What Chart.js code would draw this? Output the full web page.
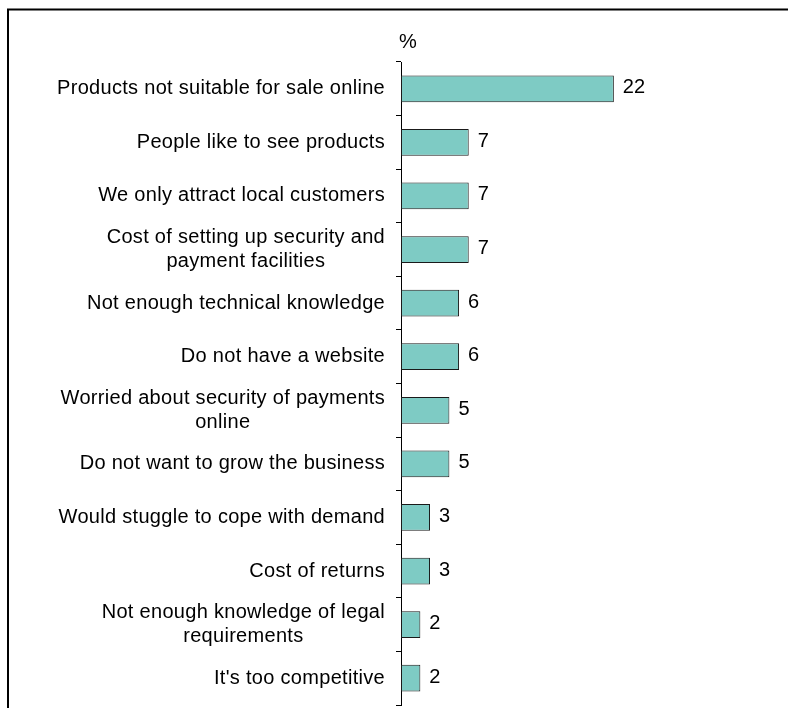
<!DOCTYPE html>
<html>
<head>
<meta charset="utf-8">
<script src="https://cdn.jsdelivr.net/npm/chart.js@4/dist/chart.umd.min.js"></script>
<style>
  html, body { margin: 0; padding: 0; background: #fff; }
  #wrap { width: 788px; height: 708px; position: relative; }
</style>
</head>
<body>
<div id="wrap"><canvas id="chart-reasons" width="788" height="708"></canvas></div>
<script>
// reasons for not selling online, % of businesses
const reasons = [
  ['Products not suitable for sale online'],
  ['People like to see products'],
  ['We only attract local customers'],
  ['Cost of setting up security and', 'payment facilities'],
  ['Not enough technical knowledge'],
  ['Do not have a website'],
  ['Worried about security of payments', 'online'],
  ['Do not want to grow the business'],
  ['Would stuggle to cope with demand'],
  ['Cost of returns'],
  ['Not enough knowledge of legal', 'requirements'],
  ["It's too competitive"],
];
const percents = [22, 7, 7, 7, 6, 6, 5, 5, 3, 3, 2, 2];
const unitLabel = '%';

const FONT = '20px "Liberation Sans", Arial, sans-serif';

// outer frame (left + top edges only)
const framePlugin = {
  id: 'frame',
  afterDraw(chart) {
    const c = chart.ctx;
    c.save();
    c.strokeStyle = '#000';
    c.lineWidth = 2;
    c.beginPath();
    c.moveTo(8, 708);
    c.lineTo(8, 9.5);
    c.lineTo(788, 9.5);
    c.stroke();
    c.restore();
  },
};

// category labels: block right-aligned, lines centred within the block
const categoryLabels = {
  id: 'categoryLabels',
  afterDraw(chart) {
    const c = chart.ctx;
    const y = chart.scales.y;
    const right = 385;
    const lineH = 24;
    c.save();
    c.font = FONT;
    c.letterSpacing = '0.3px';
    c.fillStyle = '#000';
    c.textBaseline = 'middle';
    c.textAlign = 'center';
    reasons.forEach((lines, i) => {
      const cy = y.getPixelForValue(i);
      const w = Math.max(...lines.map(l => c.measureText(l).width));
      const cx = right - w / 2;
      const top = cy - (lines.length - 1) * lineH / 2;
      lines.forEach((l, k) => c.fillText(l, cx, top + k * lineH));
    });
    // unit label above the axis
    c.letterSpacing = '0px';
    c.textAlign = 'left';
    c.fillText(unitLabel, chart.chartArea.left - 2, 42);
    c.restore();
  },
};

// value labels at the end of each bar
const valueLabels = {
  id: 'valueLabels',
  afterDatasetsDraw(chart) {
    const c = chart.ctx;
    const meta = chart.getDatasetMeta(0);
    c.save();
    c.font = FONT;
    c.fillStyle = '#000';
    c.textBaseline = 'middle';
    c.textAlign = 'left';
    meta.data.forEach((bar, i) => {
      c.fillText(String(percents[i]), bar.x + 9, bar.y - 1);
    });
    c.restore();
  },
};

new Chart(document.getElementById('chart-reasons').getContext('2d'), {
  type: 'bar',
  data: {
    labels: reasons,
    datasets: [{
      data: percents,
      backgroundColor: '#7ecbc4',
      borderColor: '#1a1a1a',
      borderWidth: 1,
      borderSkipped: false,
      barPercentage: 0.5,
      categoryPercentage: 1,
    }],
  },
  options: {
    indexAxis: 'y',
    responsive: false,
    animation: false,
    events: [],
    layout: { padding: { top: 62, bottom: 3, left: 0, right: 0 } },
    plugins: {
      legend: { display: false },
      tooltip: { enabled: false },
    },
    scales: {
      x: {
        display: false,
        min: 0,
        max: 40,
      },
      y: {
        afterFit(scale) { scale.width = 401; },
        ticks: { display: false },
        grid: {
          drawOnChartArea: false,
          drawTicks: true,
          tickLength: 5,
          offset: true,
          color: '#000',
        },
        border: { display: true, color: '#000', width: 1 },
      },
    },
  },
  plugins: [framePlugin, categoryLabels, valueLabels],
});
</script>
</body>
</html>
